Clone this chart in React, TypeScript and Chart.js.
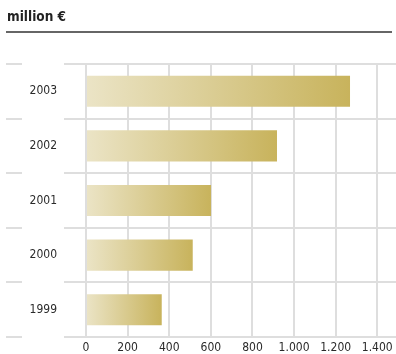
import React, { useEffect, useRef } from "react";
import { Chart, registerables } from "chart.js";

Chart.register(...registerables);

const years = ["2003", "2002", "2001", "2000", "1999"];
const revenue = [1269, 918, 601, 513, 364];
const xTicks = [0, 200, 400, 600, 800, 1000, 1200, 1400];
const axisMax = 1490;
const titleText = "million €";

const FONT = "'DejaVu Sans Condensed', 'DejaVu Sans', Verdana, sans-serif";
const GRID = "#dedede";

function fmt(v: number) {
  return String(v).replace(/\B(?=(\d{3})+(?!\d))/g, ".");
}

const decorPlugin = {
  id: "decor",
  afterDraw(chart: any) {
    const ctx = chart.ctx;
    const ys = chart.scales.y;
    ctx.save();
    ctx.font = `bold 13.5px ${FONT}`;
    ctx.fillStyle = "#222";
    ctx.textBaseline = "middle";
    ctx.textAlign = "left";
    ctx.fillText(titleText, 7, 17);
    ctx.strokeStyle = "#333";
    ctx.lineWidth = 1.5;
    ctx.beginPath();
    ctx.moveTo(6, 32);
    ctx.lineTo(392, 32);
    ctx.stroke();
    ctx.strokeStyle = GRID;
    ctx.lineWidth = 2;
    for (let i = 0; i <= years.length; i++) {
      const y = Math.round(ys.getPixelForValue(i - 0.5));
      ctx.beginPath();
      ctx.moveTo(6, y);
      ctx.lineTo(22, y);
      ctx.stroke();
    }
    ctx.restore();
  },
};

export default function App() {
  const ref = useRef<HTMLCanvasElement | null>(null);
  useEffect(() => {
    document.body.style.margin = "0";
    const canvas = ref.current!;
    const chart = new Chart(canvas, {
      type: "bar",
      data: {
        labels: years,
        datasets: [
          {
            data: revenue,
            backgroundColor: (c: any) => {
              const chart = c.chart;
              if (!chart.chartArea || !c.parsed) return "#d6c88e";
              const xs = chart.scales.x;
              const x0 = xs.getPixelForValue(0);
              const x1 = xs.getPixelForValue(c.parsed.x);
              const g = chart.ctx.createLinearGradient(x0, 0, x1, 0);
              g.addColorStop(0, "#ebe4c6");
              g.addColorStop(1, "#c8b35c");
              return g;
            },
            borderWidth: 0,
            barPercentage: 0.57,
            categoryPercentage: 1,
          },
        ],
      },
      options: {
        indexAxis: "y",
        animation: false,
        responsive: false,
        maintainAspectRatio: false,
        layout: { padding: { top: 64, left: 0, right: 0, bottom: 0 } },
        plugins: {
          legend: { display: false },
          title: { display: false },
          tooltip: { enabled: false },
        },
        scales: {
          x: {
            min: 0,
            max: axisMax,
            afterBuildTicks: (s: any) => {
              s.ticks = xTicks.map((v) => ({ value: v }));
            },
            afterFit: (s: any) => {
              s.height = 17;
              s.paddingLeft = 0;
              s.paddingRight = 0;
            },
            grid: { color: GRID, lineWidth: 2, drawTicks: false },
            border: { display: false },
            ticks: {
              autoSkip: false,
              maxRotation: 0,
              padding: 4,
              color: "#2a2a2a",
              font: { family: FONT, size: 12 },
              callback: (v: any) => fmt(Number(v)),
            },
          },
          y: {
            afterFit: (s: any) => {
              s.width = 86;
              s.paddingTop = 0;
              s.paddingBottom = 0;
            },
            grid: {
              color: GRID,
              lineWidth: 2,
              offset: true,
              drawTicks: true,
              tickLength: 22,
            },
            border: { display: false },
            ticks: {
              padding: 7,
              color: "#2a2a2a",
              font: { family: FONT, size: 12 },
            },
          },
        },
      },
      plugins: [decorPlugin],
    } as any);
    return () => chart.destroy();
  }, []);
  return (
    <canvas
      ref={ref}
      width={396}
      height={354}
      style={{ display: "block", width: 396, height: 354 }}
    />
  );
}
